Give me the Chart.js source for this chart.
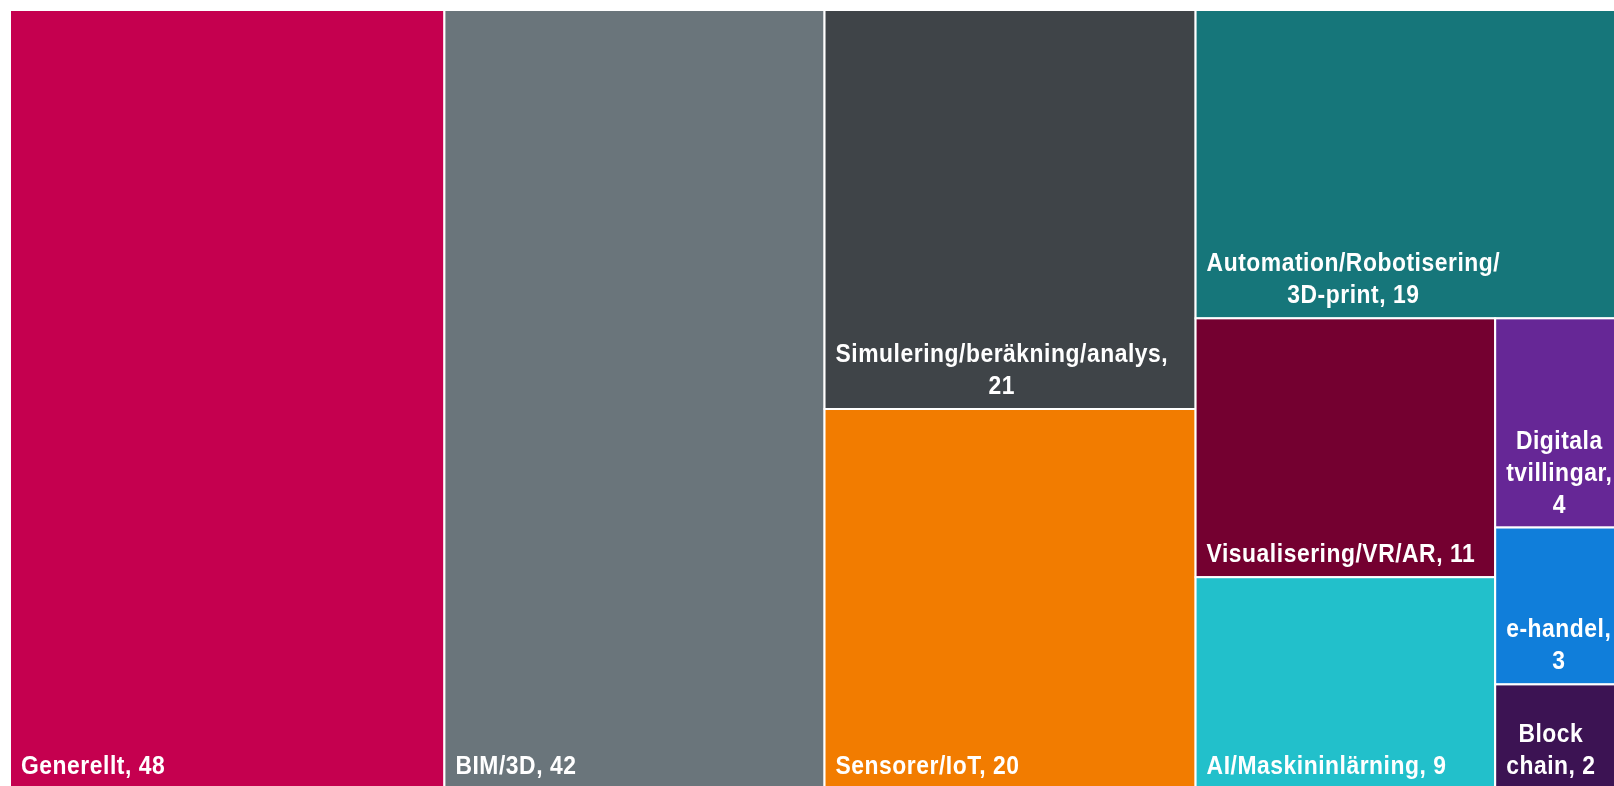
<!DOCTYPE html>
<html>
<head>
<meta charset="utf-8">
<script src="https://cdn.jsdelivr.net/npm/chart.js@4"></script>
<style>
  html, body { margin: 0; padding: 0; background: #fff; overflow: hidden; }
  #wrap { position: relative; width: 1640px; height: 790px; }
</style>
</head>
<body>
<div id="wrap"><canvas id="tree"></canvas></div>
<script>
// categories and counts
const categories = [
  'Generellt',
  'BIM/3D',
  'Simulering/beräkning/analys',
  'Sensorer/IoT',
  'Automation/Robotisering/3D-print',
  'Visualisering/VR/AR',
  'AI/Maskininlärning',
  'Digitala tvillingar',
  'e-handel',
  'Block chain'
];
const counts = [48, 42, 21, 20, 19, 11, 9, 4, 3, 2];
const colors = [
  '#c5004f', '#6a757b', '#3f4448', '#f27c00', '#16767a',
  '#740030', '#22c0cb', '#662796', '#107eda', '#3c1353'
];

// no Arial Narrow here, so squeeze Liberation Sans bold sideways
const labelFont = 'bold 26px "Liberation Sans", Arial, sans-serif';
const squeeze = 0.88;
const pad = 11;
const bottomPad = 15;
const lineH = 32;
const maxLabelW = 360;

// squarified layout, rows along the shorter side
const worst = (row, side, scale) => {
  const s = row.reduce((a, b) => a + b, 0) * scale;
  const rmax = Math.max(...row) * scale;
  const rmin = Math.min(...row) * scale;
  return Math.max(side * side * rmax / (s * s), s * s / (side * side * rmin));
};

function squarify(vals, rect) {
  const total = vals.reduce((a, b) => a + b, 0);
  const scale = rect.w * rect.h / total;
  const out = [];
  let r = { ...rect };
  let i = 0;
  while (i < vals.length) {
    const column = r.w >= r.h * 0.9;
    const side = column ? r.h : r.w;
    let row = [vals[i]];
    let j = i + 1;
    while (j < vals.length && worst([...row, vals[j]], side, scale) <= worst(row, side, scale)) {
      row.push(vals[j]);
      j++;
    }
    const thick = row.reduce((a, b) => a + b, 0) * scale / side;
    let off = 0;
    row.forEach(v => {
      const len = v * scale / thick;
      if (column) out.push({ x: r.x, y: r.y + off, w: thick, h: len });
      else out.push({ x: r.x + off, y: r.y, w: len, h: thick });
      off += len;
    });
    if (column) { r.x += thick; r.w -= thick; }
    else { r.y += thick; r.h -= thick; }
    i = j;
  }
  return out;
}

const textW = (ctx, s) => ctx.measureText(s).width * squeeze;

// break after "/" and at spaces
function wrapLabel(ctx, text, maxW) {
  const tokens = [];
  let cur = '';
  for (const ch of text) {
    if (ch === ' ') { tokens.push({ t: cur, sep: ' ' }); cur = ''; }
    else { cur += ch; if (ch === '/') { tokens.push({ t: cur, sep: '' }); cur = ''; } }
  }
  if (cur) tokens.push({ t: cur, sep: '' });
  const lines = [];
  let line = '';
  let pendingSep = '';
  tokens.forEach(tk => {
    const test = line ? line + pendingSep + tk.t : tk.t;
    if (line && textW(ctx, test) > maxW) {
      lines.push(line);
      line = tk.t;
    } else {
      line = test;
    }
    pendingSep = tk.sep;
  });
  if (line) lines.push(line);
  return lines;
}

const treemapPlugin = {
  id: 'treemap',
  afterDatasetsDraw(chart) {
    const { ctx, chartArea, scales } = chart;
    const sx = scales.x, sy = scales.y;
    const aspect = chartArea.width / chartArea.height;
    const cells = squarify(counts, { x: 0, y: 0, w: aspect, h: 1 });
    ctx.save();
    cells.forEach((c, i) => {
      const x0 = sx.getPixelForValue(c.x / aspect);
      const x1 = sx.getPixelForValue((c.x + c.w) / aspect);
      const y0 = sy.getPixelForValue(c.y);
      const y1 = sy.getPixelForValue(c.y + c.h);
      ctx.fillStyle = colors[i];
      ctx.fillRect(x0, y0, x1 - x0, y1 - y0);
      ctx.strokeStyle = '#ffffff';
      ctx.lineWidth = 2;
      ctx.strokeRect(x0, y0, x1 - x0, y1 - y0);
    });
    ctx.font = labelFont;
    ctx.letterSpacing = '0.6px';
    ctx.fillStyle = '#ffffff';
    ctx.textBaseline = 'alphabetic';
    ctx.textAlign = 'center';
    cells.forEach((c, i) => {
      const x0 = sx.getPixelForValue(c.x / aspect);
      const x1 = sx.getPixelForValue((c.x + c.w) / aspect);
      const y1 = sy.getPixelForValue(c.y + c.h);
      const maxW = Math.min(x1 - x0 - 18, maxLabelW);
      const lines = wrapLabel(ctx, categories[i] + ', ' + counts[i], maxW);
      const blockW = Math.max(...lines.map(l => textW(ctx, l)));
      const cx = x0 + pad + blockW / 2;
      lines.forEach((l, k) => {
        const by = y1 - bottomPad - (lines.length - 1 - k) * lineH;
        ctx.save();
        ctx.translate(cx, by);
        ctx.scale(squeeze, 1);
        ctx.fillText(l, 0, 0);
        ctx.restore();
      });
    });
    ctx.restore();
  }
};

new Chart(document.getElementById('tree'), {
  type: 'scatter',
  data: { datasets: [{ data: [] }] },
  options: {
    responsive: true,
    maintainAspectRatio: false,
    animation: false,
    layout: { padding: { left: 10, top: 10, right: 10, bottom: 1 } },
    plugins: { legend: { display: false }, tooltip: { enabled: false } },
    scales: {
      x: { type: 'linear', min: 0, max: 1, display: false },
      y: { type: 'linear', min: 0, max: 1, reverse: true, display: false }
    }
  },
  plugins: [treemapPlugin]
});
</script>
</body>
</html>
